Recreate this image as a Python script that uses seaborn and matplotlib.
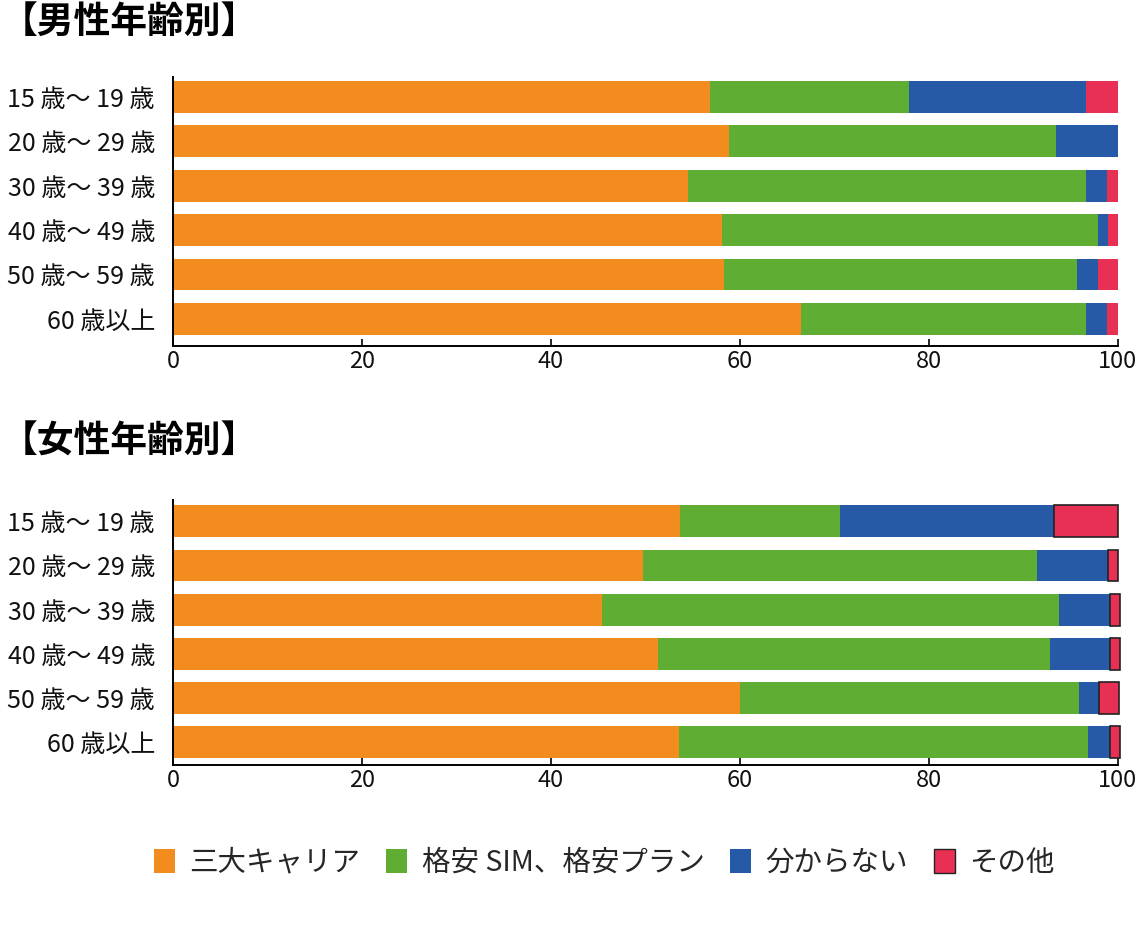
import matplotlib
matplotlib.use("Agg")
import matplotlib.pyplot as plt
import seaborn as sns
import numpy as np
import pandas as pd
from matplotlib.patches import Patch

sns.set_theme(style="white")
plt.rcParams['font.family'] = ['Noto Sans CJK JP', 'DejaVu Sans']

categories = ["15 歳〜 19 歳", "20 歳〜 29 歳", "30 歳〜 39 歳",
              "40 歳〜 49 歳", "50 歳〜 59 歳", "60 歳以上"]
series_names = ["三大キャリア", "格安 SIM、格安プラン", "分からない", "その他"]
colors = ["#F28C1E", "#5FAD32", "#2659A6", "#E83055"]

male_carrier = [56.9, 58.9, 54.5, 58.1, 58.3, 66.5]
male_cheap = [21.0, 34.6, 42.2, 39.8, 37.4, 30.2]
male_unknown = [18.8, 6.5, 2.2, 1.1, 2.2, 2.2]
male_other = [3.3, 0.0, 1.1, 1.0, 2.1, 1.1]

female_carrier = [53.7, 49.8, 45.4, 51.4, 60.0, 53.6]
female_cheap = [16.9, 41.7, 48.4, 41.4, 35.9, 43.3]
female_unknown = [22.7, 7.5, 5.4, 6.4, 2.1, 2.3]
female_other = [6.7, 1.1, 1.1, 1.1, 2.2, 1.1]

xticks = [0, 20, 40, 60, 80, 100]

fig = plt.figure(figsize=(11.38, 9.4), dpi=100)


def draw(ax, series, ylim, red_edge):
    cum = np.zeros(len(categories))
    starts = []
    for i, vals in enumerate(series):
        vals = np.array(vals, dtype=float)
        starts.append(cum.copy())
        cum = cum + vals
        df = pd.DataFrame({"cat": categories, "end": cum})
        edge = "#222222" if (red_edge and i == 3) else "none"
        sns.barplot(data=df, x="end", y="cat", orient="h", color=colors[i],
                    width=0.72, ax=ax, saturation=1, edgecolor=edge,
                    linewidth=1.2 if edge != "none" else 0)
    for i, cont in enumerate(ax.containers):
        vals = np.array(series[i], dtype=float)
        for j, p in enumerate(cont.patches):
            p.set_x(starts[i][j])
            p.set_width(vals[j])
            p.set_clip_on(False)
            if vals[j] <= 0:
                p.set_visible(False)
    ax.set_xlim(0, 100)
    ax.set_ylim(*ylim)
    ax.set_xticks(xticks)
    ax.set_xticklabels([str(t) for t in xticks])
    ax.set_xlabel("")
    ax.set_ylabel("")
    for s in ["top", "right"]:
        ax.spines[s].set_visible(False)
    for s in ["left", "bottom"]:
        ax.spines[s].set_color("black")
        ax.spines[s].set_linewidth(1.4)
    ax.tick_params(axis="x", direction="in", length=5, width=1.2,
                   labelsize=17, pad=3, colors="black", bottom=True)
    ax.tick_params(axis="y", direction="in", length=3, width=1.0,
                   labelsize=18, pad=13, colors="black", left=True)
    for lab in ax.get_yticklabels() + ax.get_xticklabels():
        lab.set_color("#111111")


ax1 = fig.add_axes([0.152, 0.632, 0.830, 0.286])
draw(ax1, [male_carrier, male_cheap, male_unknown, male_other],
     (5.61, -0.45), False)

ax2 = fig.add_axes([0.152, 0.186, 0.830, 0.282])
draw(ax2, [female_carrier, female_cheap, female_unknown, female_other],
     (5.52, -0.48), True)

fig.text(0.001, 0.976, "【男性年齢別】", fontsize=26.5, fontweight="bold",
         va="center", ha="left", color="black")
fig.text(0.001, 0.530, "【女性年齢別】", fontsize=26.5, fontweight="bold",
         va="center", ha="left", color="black")

handles = []
for i, name in enumerate(series_names):
    ec = "#222222" if i == 3 else colors[i]
    handles.append(Patch(facecolor=colors[i], edgecolor=ec,
                         linewidth=1.0 if i == 3 else 0))
fig.legend(handles, series_names, loc="center", bbox_to_anchor=(0.531, 0.082),
           ncol=4, frameon=False, fontsize=20.5, handlelength=0.75,
           handleheight=0.95, handletextpad=0.5, columnspacing=0.9)

fig.savefig("out.png", dpi=100)
